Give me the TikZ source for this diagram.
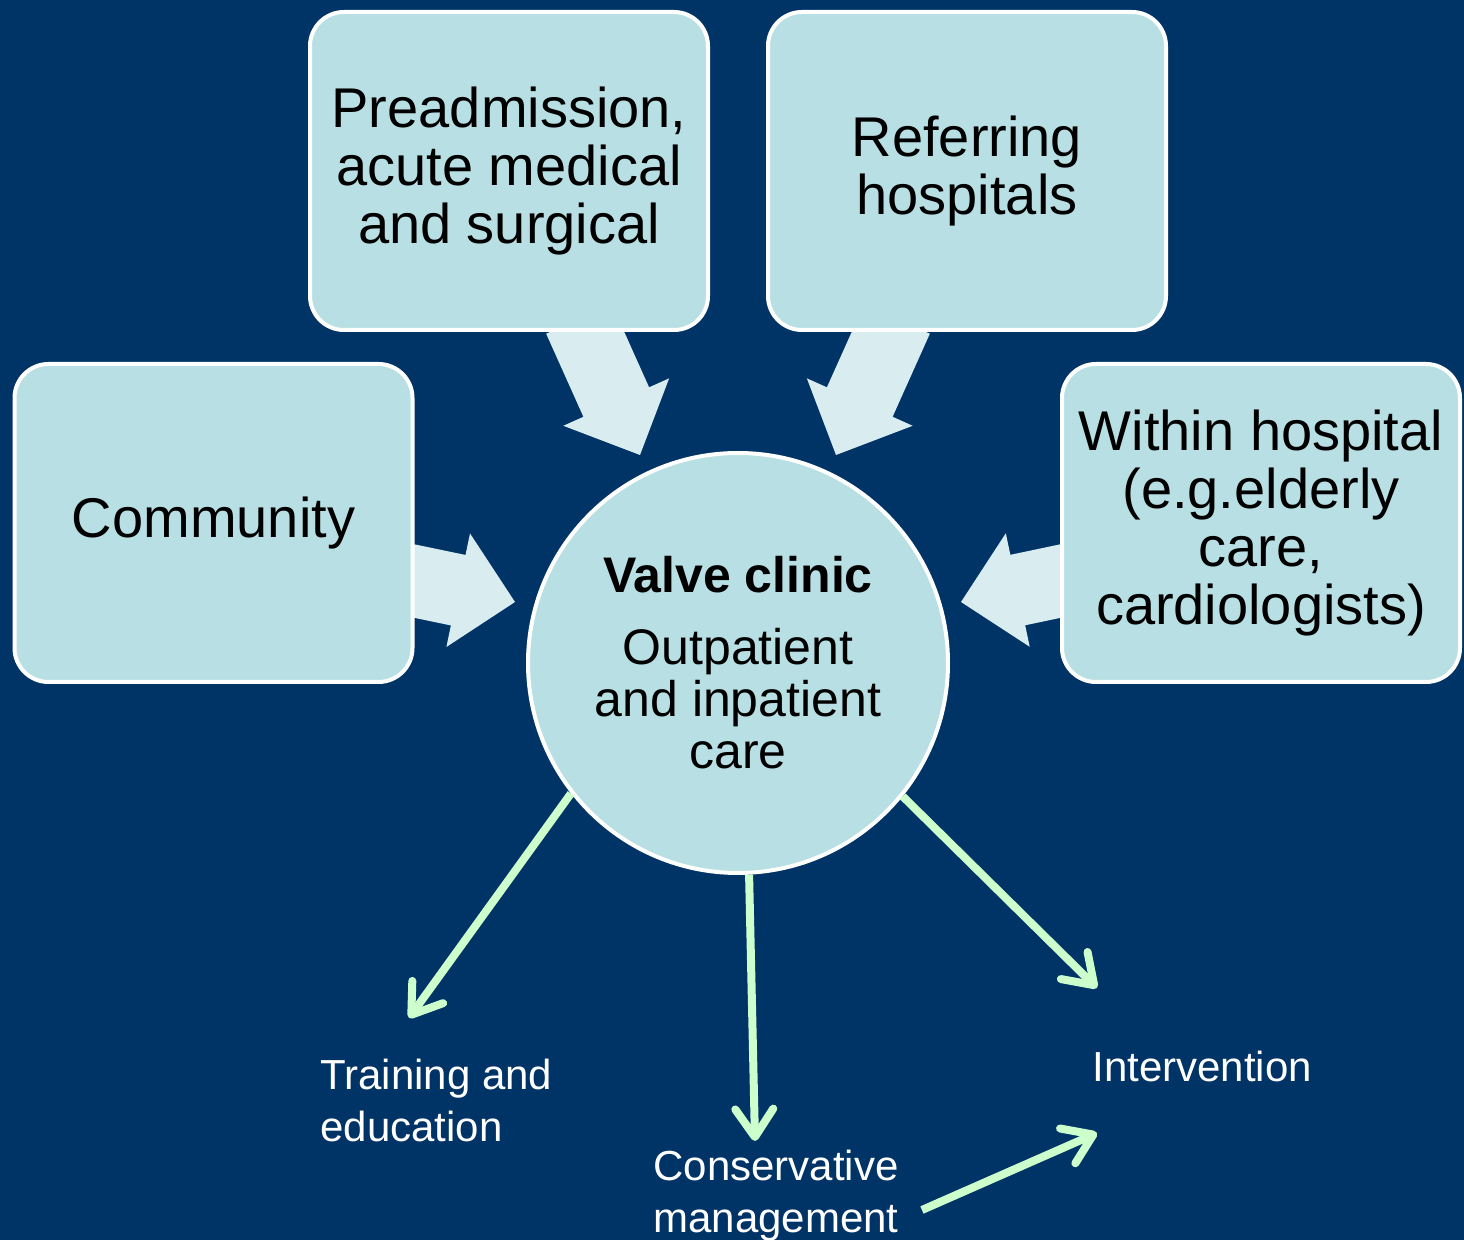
\documentclass[tikz,border=0pt]{standalone}
\usepackage{fontspec}
\setmainfont{Liberation Sans}
\usetikzlibrary{calc,arrows.meta}
\definecolor{navy}{HTML}{003366}
\definecolor{boxfill}{HTML}{B8DFE3}
\definecolor{arrowfill}{HTML}{D9EDF0}
\definecolor{mint}{HTML}{CCFFCC}
\pgfdeclarelayer{backdrop}
\pgfdeclarelayer{under}
\pgfsetlayers{backdrop,under,main}

% broad block arrow from #1 (start of shaft) to #2 (tip)
\newcommand{\fatarrow}[2]{%
  \fill[fatarrowfill] let \p1=(#1), \p2=(#2),
    \n1={atan2(\y2-\y1,\x2-\x1)}, \n2={veclen(\x2-\x1,\y2-\y1)-29pt}
  in ($(\p1)+(\n1+90:18pt)$)
  -- ($(\p1)+(\n1:\n2)+(\n1+90:18pt)$)
  -- ($(\p1)+(\n1:\n2)+(\n1+90:29pt)$)
  -- (\p2)
  -- ($(\p1)+(\n1:\n2)+(\n1-90:29pt)$)
  -- ($(\p1)+(\n1:\n2)+(\n1-90:18pt)$)
  -- ($(\p1)+(\n1-90:18pt)$) -- cycle;}

\begin{document}
\begin{tikzpicture}[x=0.5pt,y=-0.5pt,
  source/.style={draw=white, line width=2pt, fill=boxfill, rounded corners=17pt,
    minimum width=199pt, minimum height=159pt, align=center, inner sep=0pt,
    font=\fontsize{28pt}{29pt}\selectfont},
  hub/.style={circle, draw=white, line width=2pt, fill=boxfill, minimum size=210pt,
    align=center, inner sep=0pt, font=\fontsize{25pt}{26pt}\selectfont},
  outcome/.style={text=white, align=left, inner sep=0pt,
    font=\fontsize{21pt}{26pt}\selectfont},
  flow/.style={draw=mint, line width=4pt,
    -{Straight Barb[round,length=14pt,width=19pt]}},
  fatarrowfill/.style={fill=arrowfill}]
\useasboundingbox (0,0) rectangle (1464,1240);
\begin{pgfonlayer}{backdrop}
  \fill[navy] (0,0) rectangle (1464,1240);
\end{pgfonlayer}
\clip (0,0) rectangle (1464,1240);

% referral sources
\node[source] (pre) at (509,171) {Preadmission,\\acute medical\\and surgical};
\node[source] (ref) at (967,171) {Referring\\hospitals};
\node[source] (comm) at (213.5,523) {Community};
\node[source] (within) at (1261,523) {Within hospital\\(e.g.elderly\\care,\\cardiologists)};

% the clinic
\node[hub] (clinic) at (738,663) {\textbf{Valve clinic}\\[10pt]Outpatient\\and inpatient\\care};

% outcomes
\node[outcome, anchor=west] (train) at (320,1100) {Training and\\education};
\node[outcome, anchor=west] (cons) at (653,1196) {Conservative\\management};
\node[outcome, anchor=west] (interv) at (1092,1066) {Intervention};

% inflow arrows, tucked under the boxes
\coordinate (tipPre) at (640,455);
\coordinate (tipRef) at (836,455);
\coordinate (tipComm) at (515,602);
\coordinate (tipWithin) at (961,602);
\begin{pgfonlayer}{under}
  \fatarrow{$(pre.south)+(70,-13)$}{tipPre}
  \fatarrow{$(ref.south)+(-70,-13)$}{tipRef}
  \fatarrow{$(comm.east)+(-15,55)$}{tipComm}
  \fatarrow{$(within.west)+(15,55)$}{tipWithin}
\end{pgfonlayer}

% outflow arrows
\coordinate (endTrain) at (409,1018);
\coordinate (endCons) at (755,1141);
\coordinate (endInterv) at (1097,988);
\coordinate (consOut) at ($(cons.east)+(23,14)$);
\coordinate (intervIn) at ($(interv.west)+(5,67)$);
\draw[flow] (clinic.218) -- (endTrain);
\draw[flow] (clinic.273) -- (endCons);
\draw[flow] (clinic.321) -- (endInterv);
\draw[flow] (consOut) -- (intervIn);
\end{tikzpicture}
\end{document}
